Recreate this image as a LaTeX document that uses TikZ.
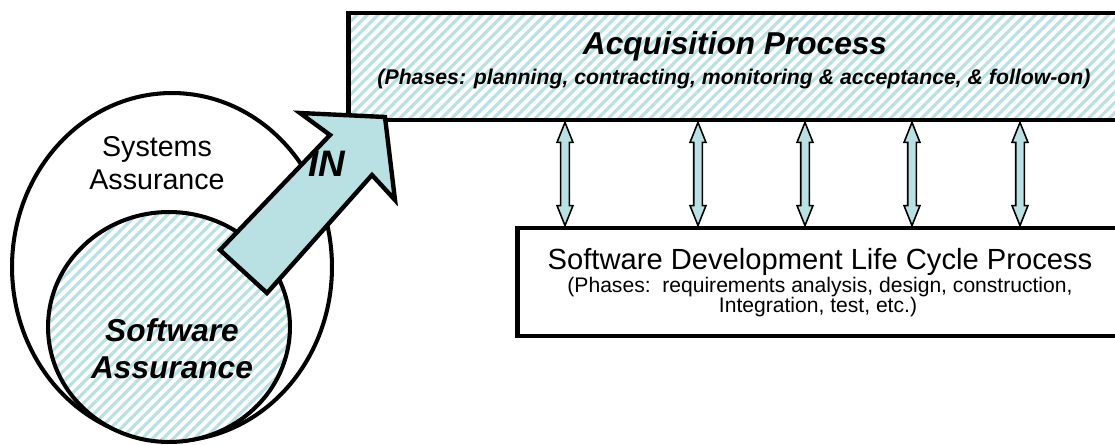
\documentclass[tikz,border=0pt]{standalone}
\usepackage{fontspec}
\setmainfont{Liberation Sans}
\usetikzlibrary{shapes.geometric,patterns.meta,calc}

\definecolor{paleblue}{RGB}{185,225,228}

\tikzset{
  hatched/.style={preaction={fill=white},
    pattern={Lines[angle=45,distance=4.2pt,line width=1.8pt]},pattern color=paleblue},
  procbox/.style={draw,line width=2.8pt,rectangle,inner sep=0pt},
  ring/.style={draw,line width=2.3pt,ellipse,inner sep=0pt},
  twoway/.style={draw,line width=0.9pt,fill=paleblue,line join=miter},
}

\begin{document}
\begin{tikzpicture}[x=0.02cm,y=-0.02cm]
  \useasboundingbox (0,0) rectangle (1115,445);
  \clip (0,0) rectangle (1115,445);

  % assurance areas
  \node[ring,minimum width=6.4cm,minimum height=6.96cm] (sys) at (172,267) {};
  \node[ring,hatched,minimum width=4.84cm,minimum height=4.6cm] (swa) at (169,327) {};
  \node[align=center,font=\fontsize{16.3}{18.8}\selectfont] (sysname) at (157,163) {Systems\\Assurance};
  \node[align=center,font=\fontsize{18}{21}\selectfont\bfseries\itshape] (swaname) at (172,349) {Software\\Assurance};

  % acquisition
  \node[procbox,hatched,minimum width=15.48cm,minimum height=2.14cm] (acq) at (735,66.5) {};
  \node[anchor=base,font=\fontsize{18}{21}\selectfont\bfseries\itshape] (acqname) at (735,55) {Acquisition Process};
  \node[anchor=base,font=\fontsize{12.1}{14}\selectfont\bfseries\itshape] (acqphases) at (734,85)
    {(Phases: planning, contracting, monitoring \& acceptance, \& follow-on)};

  % the IN arrow
  \draw[line width=2.5pt,fill=paleblue,line join=miter]
    (220,250) -- (330,135) -- (300,113) -- (385,117) -- (395,200) -- (372,175) -- (267,293) -- cycle;
  \node[font=\fontsize{21}{21}\selectfont\bfseries\itshape] (inname) at (327,164) {IN};

  % life cycle
  \node[procbox,fill=white,minimum width=12.12cm,minimum height=2.16cm] (sdlc) at (820,282) {};
  \node[anchor=base,font=\fontsize{16.6}{20}\selectfont] (sdlcname) at (820,270) {Software Development Life Cycle Process};
  \node[anchor=base,font=\fontsize{12}{14}\selectfont] (sdlcphases) at (820,293)
    {(Phases:\ \ requirements analysis, design, construction,};
  \node[anchor=base,font=\fontsize{12}{14}\selectfont] (sdlcrest) at (818,313) {Integration, test, etc.)};

  % links between the two processes
  \foreach \x in {565,698,805,912,1020}{
    \coordinate (top) at (acq.south -| \x,0);
    \coordinate (bot) at (sdlc.north -| \x,0);
    \draw[twoway] (top) -- ++(8,20) -- ++(-3.7,0) -- ($(bot)+(4.3,-20)$) -- ++(3.7,0) -- (bot)
      -- ++(-8,-20) -- ++(3.7,0) -- ($(top)+(-4.3,20)$) -- ++(-3.7,0) -- cycle;
  }
\end{tikzpicture}
\end{document}
